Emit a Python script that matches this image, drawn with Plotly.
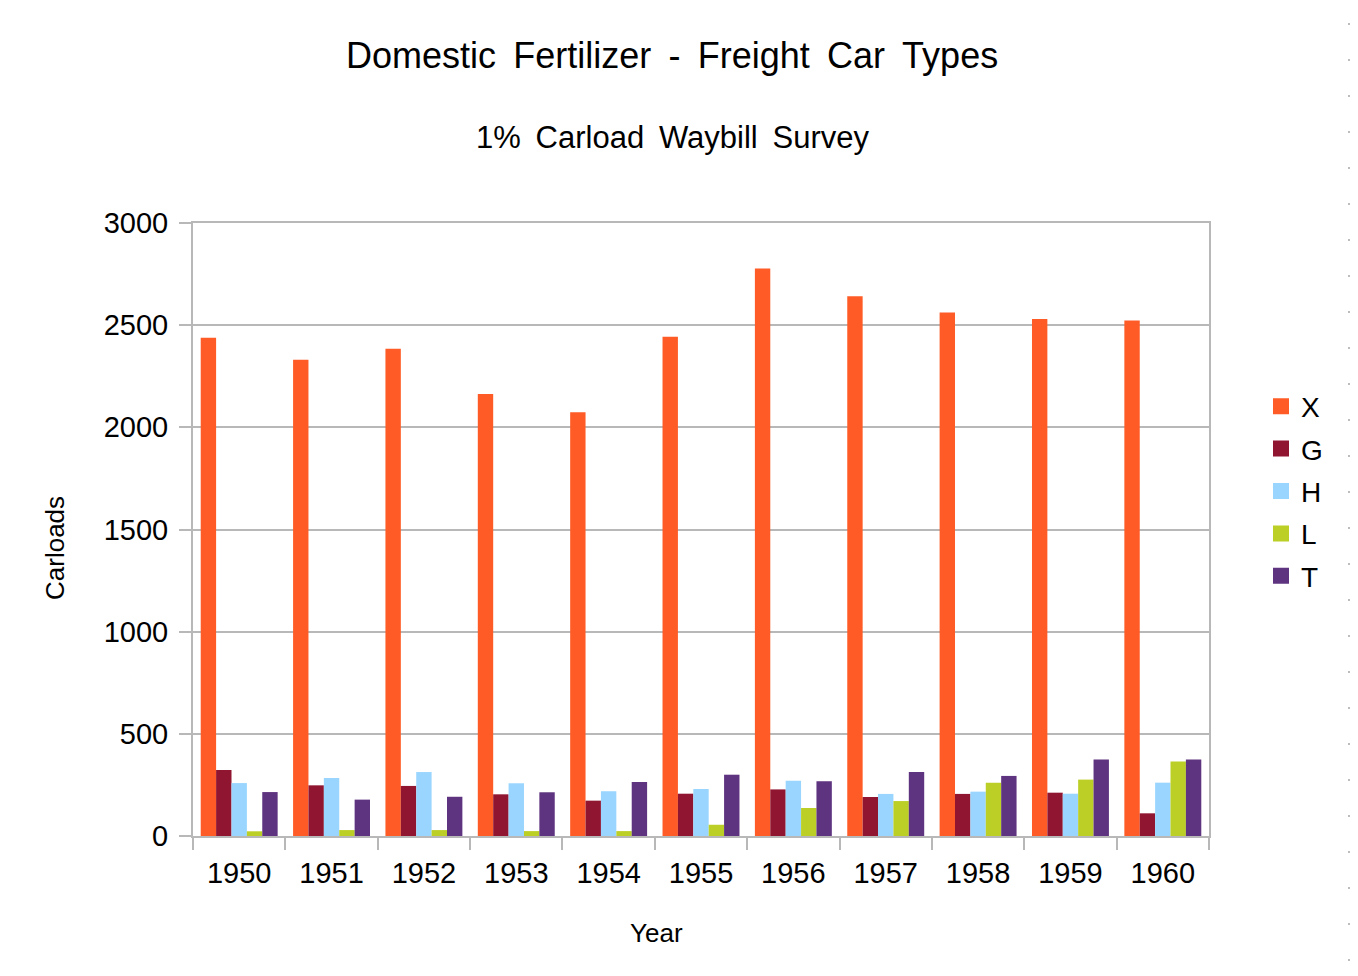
import plotly.graph_objects as go

years = ["1950", "1951", "1952", "1953", "1954", "1955", "1956", "1957", "1958", "1959", "1960"]
series_names = ["X", "G", "H", "L", "T"]
x_vals = [2438, 2331, 2385, 2163, 2074, 2443, 2777, 2641, 2562, 2530, 2523]
g_vals = [323, 248, 245, 204, 173, 207, 228, 191, 206, 212, 111]
h_vals = [259, 284, 313, 258, 219, 230, 271, 206, 217, 207, 261]
l_vals = [23, 29, 29, 24, 24, 55, 137, 171, 261, 276, 364]
t_vals = [215, 178, 192, 214, 264, 300, 268, 313, 294, 374, 375]
colors = ["#ff5b26", "#8f1530", "#99d5ff", "#bccf26", "#5e337f"]
y_ticks = [0, 500, 1000, 1500, 2000, 2500, 3000]

all_vals = [x_vals, g_vals, h_vals, l_vals, t_vals]

FONT = "Liberation Sans, Arial, sans-serif"
OFF = 8  # default page body margin
W, H = 1358 - OFF, 976 - OFF
L, R, T, B = 193 - OFF, 149, 223 - OFF, 140
pw, ph = W - L - R, H - T - B


def px(xpage):
    return (xpage - OFF - L) / pw


def py(ypage):
    return (H - B - (ypage - OFF)) / ph


TS = " \u2009"  # widened word spacing as in the reference

fig = go.Figure()
for name, vals, col in zip(series_names, all_vals, colors):
    fig.add_trace(go.Bar(x=years, y=vals, name=name, showlegend=False,
                         marker=dict(color=col, line=dict(width=0))))
for name, col in zip(series_names, colors):
    fig.add_trace(go.Scatter(x=[None], y=[None], mode="markers", name=name, legendgroup=name,
                             marker=dict(symbol="square", size=17, color=col)))

grid = "#b8b8b8"
fig.update_layout(
    width=W, height=H,
    margin=dict(l=L, r=R, t=T, b=B, autoexpand=False),
    paper_bgcolor="white", plot_bgcolor="white",
    barmode="group", bargap=0.167, bargroupgap=0,
    font=dict(family=FONT, color="black"),
    legend=dict(x=px(1261), xanchor="left", y=py(491), yanchor="middle",
                font=dict(size=28, family=FONT), itemwidth=30, tracegroupgap=3,
                bgcolor="rgba(0,0,0,0)"),
    xaxis=dict(
        tickfont=dict(size=29), showgrid=False, showline=True, linecolor=grid, linewidth=2,
        mirror=True, ticks="outside", tickson="boundaries", ticklen=12, tickcolor=grid, tickwidth=2,
        ticklabelstandoff=10,
    ),
    yaxis=dict(
        range=[0, 3000], tickvals=y_ticks, tickfont=dict(size=29),
        showgrid=True, gridcolor=grid, gridwidth=2, showline=True, linecolor=grid, linewidth=2,
        mirror=True, ticks="outside", ticklen=12, tickcolor=grid, tickwidth=2, zeroline=False,
        ticklabelstandoff=5,
    ),
    annotations=[
        dict(text=TS.join("Domestic Fertilizer - Freight Car Types".split(" ")), xref="paper", yref="paper",
             x=px(672), y=py(55), xanchor="center", yanchor="middle", showarrow=False,
             font=dict(size=36, family=FONT)),
        dict(text=TS.join("1% Carload Waybill Survey".split(" ")), xref="paper", yref="paper",
             x=px(673), y=py(137), xanchor="center", yanchor="middle", showarrow=False,
             font=dict(size=31, family=FONT)),
        dict(text="Year", xref="paper", yref="paper", x=px(656), y=py(933),
             xanchor="center", yanchor="middle", showarrow=False, font=dict(size=26, family=FONT)),
        dict(text="Carloads", xref="paper", yref="paper", x=px(55), y=py(548), textangle=-90,
             xanchor="center", yanchor="middle", showarrow=False, font=dict(size=26, family=FONT)),
    ],
)

# subtle ruler marks along the right edge of the page (screenshot artefact)
shapes = []
for k in range(27):
    yp = py(24 + 36 * k)
    shapes.append(dict(type="line", xref="paper", yref="paper",
                       x0=px(1348), x1=px(1356), y0=yp, y1=yp,
                       line=dict(color="#bdbdbd", width=2)))
fig.update_layout(shapes=shapes)

fig.write_html("out.html")
